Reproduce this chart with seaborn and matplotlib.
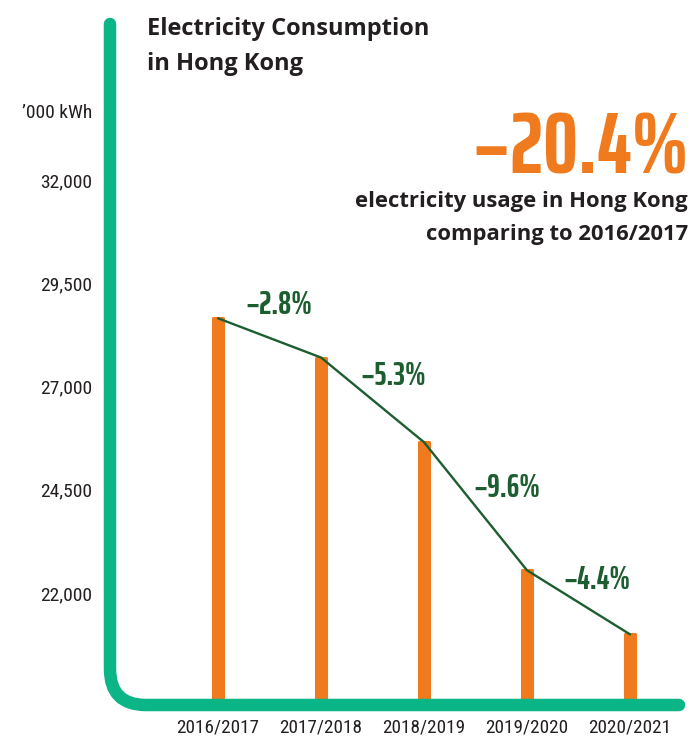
import matplotlib
matplotlib.use("Agg")
import matplotlib.pyplot as plt
import seaborn as sns
import pandas as pd
from matplotlib.path import Path
from matplotlib.patches import PathPatch

# ---- data ----
years = ["2016/2017", "2017/2018", "2018/2019", "2019/2020", "2020/2021"]
consumption = [28650, 27700, 25650, 22550, 21000]
change_labels = ["\u22122.8%", "\u22125.3%", "\u22129.6%", "\u22124.4%"]
y_ticks = [22000, 24500, 27000, 29500, 32000]
y_tick_labels = ["22,000", "24,500", "27,000", "29,500", "32,000"]
total_change = "\u221220.4%"

GREEN = "#0cb585"
ORANGE = "#f07b1f"
DKGREEN = "#1c5e2f"
TEXT = "#231f20"

sns.set_theme(style="white")
COND = ["Roboto Condensed", "DejaVu Sans"]
XCOND = ["Saira ExtraCondensed", "DejaVu Sans"]
plt.rcParams["font.family"] = ["Open Sans", "DejaVu Sans"]

W, H = 690, 742
fig = plt.figure(figsize=(W / 100, H / 100), dpi=100)
ax_left, ax_right, ax_top, ax_bot = 110, 685, 20, 705
ax = fig.add_axes([ax_left / W, 1 - ax_bot / H, (ax_right - ax_left) / W, (ax_bot - ax_top) / H])

df = pd.DataFrame({"year": years, "value": consumption})
sns.barplot(data=df, x="year", y="value", color=ORANGE, width=0.1,
            saturation=1, ax=ax, zorder=2)
for p in ax.patches:
    p.set_edgecolor(ORANGE)
    p.set_linewidth(2.2)
    p.set_joinstyle("round")

sns.lineplot(x=list(range(len(years))), y=consumption, color=DKGREEN,
             linewidth=1.7, ax=ax, zorder=3)

ax.set_xlim(-1.049, 4.534)
ax.set_ylim(19290, 35870)
ax.set_yticks(y_ticks)
ax.set_yticklabels(y_tick_labels, fontfamily=COND, fontsize=14, color=TEXT)
ax.set_xticks(range(len(years)))
ax.set_xticklabels(years, fontfamily=COND, fontsize=13.8, color=TEXT)
ax.tick_params(axis="y", length=0, pad=13)
ax.tick_params(axis="x", length=0, pad=10)
ax.set_xlabel("")
ax.set_ylabel("")
for s in ax.spines.values():
    s.set_visible(False)
ax.patch.set_alpha(0)

# rounded L-shaped axis line (axes coords)
aw, ah = ax_right - ax_left, ax_bot - ax_top
top_y = 1 - (24 - ax_top) / ah
r_px = 36
rx, ry = r_px / aw, r_px / ah
end_x = (679 - ax_left) / aw
verts = [(0, top_y), (0, ry), (0, 0), (rx, 0), (end_x, 0)]
codes = [Path.MOVETO, Path.LINETO, Path.CURVE3, Path.CURVE3, Path.LINETO]
ax.add_patch(PathPatch(Path(verts, codes), transform=ax.transAxes, fill=False,
                       edgecolor=GREEN, linewidth=9, capstyle="round",
                       joinstyle="round", clip_on=False, zorder=5))

# change labels between bars
label_pos = [(0.59, 28970), (1.70, 27250), (2.80, 24540), (3.68, 22320)]
for (lx, ly), t in zip(label_pos, change_labels):
    ax.text(lx, ly, t, ha="center", va="center", fontsize=23, fontweight="bold",
            fontfamily=XCOND, color=DKGREEN, zorder=4)

# titles and annotations (figure pixel positions)
def fx(x):
    return x / W

def fy(y):
    return 1 - y / H

fig.text(fx(147), fy(35), "Electricity Consumption", fontsize=17, fontweight="bold",
         color=TEXT, ha="left", va="baseline")
fig.text(fx(147), fy(70), "in Hong Kong", fontsize=17, fontweight="bold",
         color=TEXT, ha="left", va="baseline")
fig.text(fx(92), fy(113), "\u2019000 kWh", fontsize=14, fontfamily=COND,
         color=TEXT, ha="right", va="center")
fig.text(fx(689), fy(173), total_change, fontsize=63, fontweight="bold",
         fontfamily=XCOND, color=ORANGE, ha="right", va="baseline")
fig.text(fx(688), fy(207), "electricity usage in Hong Kong", fontsize=15.8,
         fontweight="bold", color=TEXT, ha="right", va="baseline")
fig.text(fx(688), fy(240), "comparing to 2016/2017", fontsize=15.8,
         fontweight="bold", color=TEXT, ha="right", va="baseline")

fig.savefig("out.png", dpi=100, facecolor="white")
